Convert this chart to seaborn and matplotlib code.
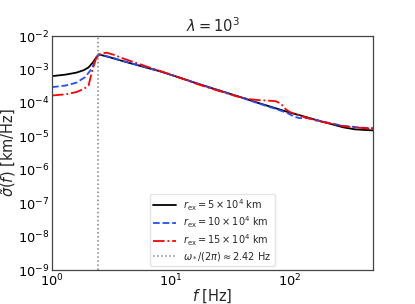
import matplotlib
matplotlib.use("Agg")
import matplotlib.pyplot as plt
import seaborn as sns
import pandas as pd
import numpy as np

# Data
f_black = [1.0, 1.3, 1.6, 1.85, 2.03, 2.2, 2.46, 3.0, 4.0, 6.0, 8.0, 12.0, 17.0, 25.0, 40.0, 55.0, 75.0, 98.0, 120.0, 160.0, 220.0, 282.0, 350.0, 420.0, 500.0]
s_black = [6.3e-4, 7.0e-4, 8.0e-4, 9.5e-4, 1.15e-3, 1.6e-3, 2.83e-3, 2.35e-3, 1.75e-3, 1.17e-3, 8.9e-4, 5.6e-4, 3.7e-4, 2.4e-4, 1.42e-4, 9.8e-5, 7.0e-5, 5.2e-5, 4.3e-5, 3.2e-5, 2.35e-5, 1.85e-5, 1.62e-5, 1.55e-5, 1.5e-5]

f_blue = [1.0, 1.3, 1.6, 1.9, 2.16, 2.3, 2.45, 2.58, 3.0, 4.0, 6.0, 8.0, 12.0, 17.0, 25.0, 40.0, 55.0, 75.0, 95.0, 108.0, 120.0, 135.0, 150.0, 170.0, 220.0, 282.0, 350.0, 420.0, 500.0]
s_blue = [2.95e-4, 3.3e-4, 4.0e-4, 5.9e-4, 1.05e-3, 1.86e-3, 2.6e-3, 2.77e-3, 2.4e-3, 1.78e-3, 1.18e-3, 8.9e-4, 5.6e-4, 3.7e-4, 2.4e-4, 1.4e-4, 9.5e-5, 6.7e-5, 5.0e-5, 3.9e-5, 3.5e-5, 3.5e-5, 3.4e-5, 3.0e-5, 2.45e-5, 2.05e-5, 1.9e-5, 1.8e-5, 1.75e-5]

f_red = [1.0, 1.3, 1.6, 1.85, 2.03, 2.16, 2.38, 2.6, 2.88, 3.3, 4.0, 6.0, 10.0, 17.0, 25.0, 35.0, 45.0, 55.0, 65.0, 76.0, 84.0, 92.0, 100.0, 130.0, 170.0, 220.0, 282.0, 350.0, 420.0, 500.0]
s_red = [1.66e-4, 1.8e-4, 2.1e-4, 2.6e-4, 3.3e-4, 8.3e-4, 2.5e-3, 3.0e-3, 3.16e-3, 2.75e-3, 2.1e-3, 1.28e-3, 7.0e-4, 3.55e-4, 2.3e-4, 1.6e-4, 1.3e-4, 1.2e-4, 1.17e-4, 1.12e-4, 9.5e-5, 6.5e-5, 5.3e-5, 3.8e-5, 2.9e-5, 2.4e-5, 2.0e-5, 1.85e-5, 1.75e-5, 1.7e-5]

labels = [r"$r_{\rm ex} = 5 \times 10^4$ km",
          r"$r_{\rm ex} = 10 \times 10^4$ km",
          r"$r_{\rm ex} = 15 \times 10^4$ km"]
f_star = 2.42
star_label = r"$\omega_*/(2\pi) \approx 2.42$ Hz"
title = r"$\lambda = 10^3$"

sns.set_style("white")
plt.rcParams["font.family"] = ["DejaVu Sans"]
plt.rcParams["mathtext.fontset"] = "dejavusans"

fig = plt.figure(figsize=(4.15, 3.04), dpi=100)
ax = fig.add_axes([52/415, 1-270/304, (373-52)/415, (270-36)/304])

df_k = pd.DataFrame({"f": f_black, "s": s_black})
df_b = pd.DataFrame({"f": f_blue, "s": s_blue})
df_r = pd.DataFrame({"f": f_red, "s": s_red})

sns.lineplot(data=df_k, x="f", y="s", ax=ax, color="black", lw=1.3, label=labels[0])
sns.lineplot(data=df_b, x="f", y="s", ax=ax, color="#1f4fff", lw=1.3, linestyle="--", label=labels[1])
sns.lineplot(data=df_r, x="f", y="s", ax=ax, color="red", lw=1.3, linestyle="-.", label=labels[2])
ax.axvline(f_star, color="gray", lw=1.1, linestyle=":", label=star_label)

ax.set_xscale("log")
ax.set_yscale("log")
ax.set_xlim(1, 500)
ax.set_ylim(1e-9, 1e-2)

ax.set_xlabel(r"$f$ [Hz]", fontsize=10.5, labelpad=-1)
ax.set_ylabel(r"$\tilde{\sigma}(f)$ [km/Hz]", fontsize=10.5, labelpad=0)
ax.set_title(title, fontsize=10.5, pad=3)

ax.tick_params(which="major", direction="in", length=3, width=0.8, labelsize=9.3, colors="#333333", labelcolor="black", pad=2)
ax.tick_params(which="minor", direction="in", length=1.5, width=0.6, colors="#333333")
ax.yaxis.set_major_locator(matplotlib.ticker.LogLocator(base=10, numticks=20))
ax.yaxis.set_minor_locator(matplotlib.ticker.LogLocator(base=10, subs=np.arange(2, 10), numticks=20))
ax.yaxis.set_minor_formatter(matplotlib.ticker.NullFormatter())
for sp in ax.spines.values():
    sp.set_color("#444444")
    sp.set_linewidth(0.9)

leg = ax.legend(loc="lower center", fontsize=7, frameon=True, handlelength=2.3, borderpad=0.35, labelspacing=0.2, borderaxespad=0.4)
leg.get_frame().set_edgecolor("#dddddd")

fig.savefig("out.png", dpi=100)
